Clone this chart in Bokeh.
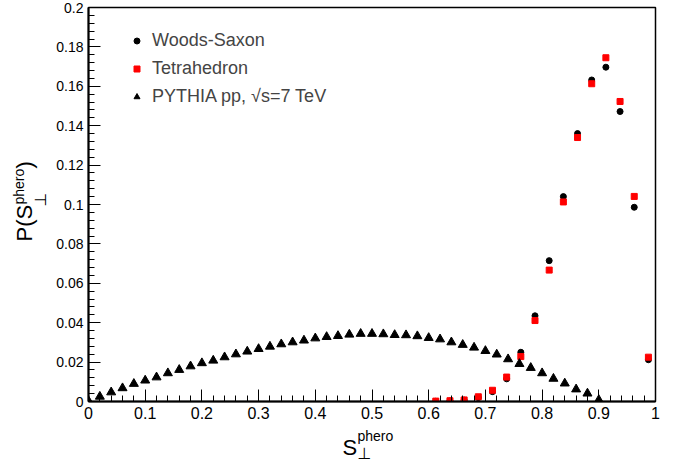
from bokeh.plotting import figure
from bokeh.layouts import row, column
from bokeh.models import Range1d, FixedTicker, Label, Legend, LegendItem
from bokeh.embed import file_html
from bokeh.resources import INLINE

# ---------------- data ----------------
# Woods-Saxon / Tetrahedron: bins of width 0.025 between 0.6 and 1.0 (centres)
bin_x = [0.6125, 0.6375, 0.6625, 0.6875, 0.7125, 0.7375, 0.7625, 0.7875,
         0.8125, 0.8375, 0.8625, 0.8875, 0.9125, 0.9375, 0.9625, 0.9875]
woods_saxon = [0.0001, 0.0003, 0.0007, 0.0020, 0.0050, 0.0115, 0.0250, 0.0435,
               0.0715, 0.1040, 0.1360, 0.1632, 0.1697, 0.1472, 0.0986, 0.0212]
tetrahedron = [0.0002, 0.0004, 0.0008, 0.0024, 0.0057, 0.0124, 0.0228, 0.0411,
               0.0667, 0.1013, 0.1340, 0.1613, 0.1745, 0.1523, 0.1041, 0.0225]

# PYTHIA pp, sqrt(s)=7 TeV
pythia_x = [0.00, 0.02, 0.04, 0.06, 0.08, 0.10, 0.12, 0.14, 0.16, 0.18,
            0.20, 0.22, 0.24, 0.26, 0.28, 0.30, 0.32, 0.34, 0.36, 0.38,
            0.40, 0.42, 0.44, 0.46, 0.48, 0.50, 0.52, 0.54, 0.56, 0.58,
            0.60, 0.62, 0.64, 0.66, 0.68, 0.70, 0.72, 0.74, 0.76, 0.78,
            0.80, 0.82, 0.84, 0.86, 0.88, 0.90]
pythia_y = [0.0003, 0.0025, 0.0047, 0.0068, 0.0090, 0.0107, 0.0123, 0.0144, 0.0161, 0.0179,
            0.0195, 0.0208, 0.0225, 0.0240, 0.0254, 0.0267, 0.0279, 0.0291, 0.0301, 0.0310,
            0.0321, 0.0328, 0.0333, 0.0340, 0.0344, 0.0344, 0.0342, 0.0338, 0.0337, 0.0332,
            0.0323, 0.0316, 0.0301, 0.0288, 0.0274, 0.0257, 0.0239, 0.0215, 0.0191, 0.0171,
            0.0144, 0.0116, 0.0092, 0.0062, 0.0041, 0.0008]

x_ticks = [0.0, 0.1, 0.2, 0.3, 0.4, 0.5, 0.6, 0.7, 0.8, 0.9, 1.0]
x_tick_labels = ["0", "0.1", "0.2", "0.3", "0.4", "0.5", "0.6", "0.7", "0.8", "0.9", "1"]
y_ticks = [0.0, 0.02, 0.04, 0.06, 0.08, 0.1, 0.12, 0.14, 0.16, 0.18, 0.2]
y_tick_labels = ["0", "0.02", "0.04", "0.06", "0.08", "0.1", "0.12", "0.14", "0.16", "0.18", "0.2"]

legend_labels = ["Woods-Saxon", "Tetrahedron", "PYTHIA pp, \u221as=7 TeV"]

FONT = "Liberation Sans"
SYM_FONT = "DejaVu Sans"

# ---------------- main plot ----------------
LEFT_W = 50
TOTAL_W, TOTAL_H = 676, 463
MAIN_H = 427

p = figure(width=TOTAL_W - LEFT_W, height=MAIN_H, output_backend="svg", toolbar_location=None,
           x_range=Range1d(0, 1), y_range=Range1d(0, 0.2),
           min_border_left=38, min_border_right=21, min_border_top=7, min_border_bottom=26)
p.frame_align = False
p.grid.visible = False
p.background_fill_color = "white"
p.border_fill_color = "white"
p.outline_line_color = "black"
p.outline_line_width = 1.5

x_minor = [round(i * 0.02, 4) for i in range(51)]
y_minor = [round(i * 0.004, 4) for i in range(51)]
p.xaxis.ticker = FixedTicker(ticks=x_ticks, minor_ticks=x_minor)
p.yaxis.ticker = FixedTicker(ticks=y_ticks, minor_ticks=y_minor)
p.xaxis.major_label_overrides = dict(zip(x_ticks, x_tick_labels))
p.yaxis.major_label_overrides = dict(zip(y_ticks, y_tick_labels))

for ax in (p.xaxis[0], p.yaxis[0]):
    ax.axis_line_color = "black"
    ax.axis_line_width = 2
    ax.major_tick_in = 12
    ax.major_tick_out = 0
    ax.minor_tick_in = 6
    ax.minor_tick_out = 0
    ax.major_tick_line_color = "black"
    ax.minor_tick_line_color = "black"
    ax.major_label_text_font = FONT
    ax.major_label_text_color = "black"
p.xaxis.major_label_text_font_size = "16px"
p.yaxis.major_label_text_font_size = "14px"
p.xaxis.major_label_standoff = 5
p.yaxis.major_label_standoff = 5

r_ws = p.scatter(bin_x, woods_saxon, marker="circle", size=6,
                 fill_color="black", line_color="black")
r_tet = p.scatter(bin_x, tetrahedron, marker="square", size=6,
                  fill_color="#ff0000", line_color="#ff0000")
r_py = p.scatter(pythia_x, pythia_y, marker="triangle", size=9,
                 fill_color="black", line_color="black")

legend = Legend(items=[LegendItem(label=legend_labels[0], renderers=[r_ws]),
                       LegendItem(label=legend_labels[1], renderers=[r_tet]),
                       LegendItem(label=legend_labels[2], renderers=[r_py])],
                location=(41, 291), orientation="vertical",
                border_line_color=None, background_fill_alpha=0,
                label_text_font=FONT, label_text_font_size="18px",
                label_height=28, glyph_height=15, glyph_width=15,
                label_standoff=8, padding=4, spacing=0, margin=0)
p.add_layout(legend)


# ---------------- axis-title panels ----------------
def text_panel(w, h):
    f = figure(width=w, height=h, output_backend="svg", toolbar_location=None,
               x_range=Range1d(0, w), y_range=Range1d(0, h),
               x_axis_type=None, y_axis_type=None,
               min_border=0, min_border_left=0, min_border_right=0,
               min_border_top=0, min_border_bottom=0)
    f.frame_align = False
    f.grid.visible = False
    f.outline_line_color = None
    f.background_fill_color = "white"
    f.border_fill_color = "white"
    return f


def lab(f, text, x, y, size, angle=0, font=FONT):
    f.add_layout(Label(x=x, y=y, x_units="screen", y_units="screen", text=text,
                       text_font=font, text_font_size=size, text_color="black",
                       angle=angle, angle_units="deg", text_baseline="alphabetic",
                       text_align="left"))


# y title  P(S_perp^phero)  (rotated, reading upward)
left = text_panel(LEFT_W, TOTAL_H)
lab(left, "P(S", 24, TOTAL_H - 241, "22px", angle=90)
lab(left, "phero", 18, TOTAL_H - 204, "14px", angle=90)
lab(left, "\u22a5", 40, TOTAL_H - 206, "16px", angle=90, font=SYM_FONT)
lab(left, ")", 24, TOTAL_H - 168, "22px", angle=90)

# x title  S_perp^phero
BOT_H = TOTAL_H - MAIN_H
bottom = text_panel(TOTAL_W - LEFT_W, BOT_H)
lab(bottom, "S", 342 - LEFT_W, TOTAL_H - 447, "22px")
lab(bottom, "phero", 357 - LEFT_W, TOTAL_H - 435, "14px")
lab(bottom, "\u22a5", 357 - LEFT_W, TOTAL_H - 453, "16px", font=SYM_FONT)

layout = row(left, column(p, bottom, spacing=0), spacing=0)

html = file_html(layout, INLINE)
open("out.html", "w").write(html)
